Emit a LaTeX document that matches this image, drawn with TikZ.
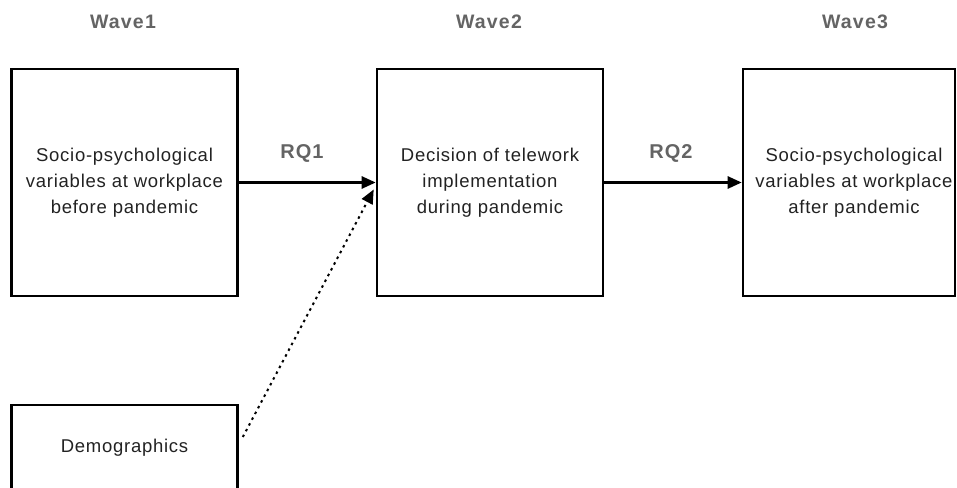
\documentclass[tikz,border=0pt]{standalone}
\usepackage{fontspec}
\setmainfont{Liberation Sans}
\usetikzlibrary{arrows.meta,calc}
\definecolor{wavegray}{HTML}{646464}
\definecolor{bodyink}{HTML}{222222}
\tikzset{
  boxtext/.style={align=center, inner sep=0pt, text=bodyink,
    font=\fontsize{18.5}{26}\selectfont\addfontfeature{LetterSpace=4}},
  stagebox/.style={boxtext, draw=black, line width=2.6pt, minimum width=226pt, minimum height=227pt},
  demobox/.style={boxtext, draw=black, line width=2.6pt, minimum width=226pt, minimum height=86pt},
  wavelabel/.style={font=\fontsize{19.5}{22}\selectfont\bfseries\addfontfeature{LetterSpace=6}, text=wavegray},
  rqlabel/.style={font=\fontsize{20}{22}\selectfont\bfseries\addfontfeature{LetterSpace=5}, text=wavegray},
  flow/.style={line width=2.6pt, -{Triangle[length=14pt,width=12pt]}},
  side/.style={line width=2pt, dash pattern=on 2.5pt off 4pt, -{Triangle[length=14pt,width=12pt]}}
}
\begin{document}
\begin{tikzpicture}[x=1pt,y=-1pt]
\useasboundingbox (0,0) rectangle (957,487);
\clip (0,0) rectangle (957,487);

\node[wavelabel] (w1) at (123,22) {Wave1};
\node[wavelabel] (w2) at (489,22) {Wave2};
\node[wavelabel] (w3) at (855,22) {Wave3};

\node[stagebox] (before) at (124.5,182.5) {Socio-psychological\\variables at workplace\\before pandemic};
\node[stagebox] (telework) at (490,182.5) {Decision of telework\\implementation\\during pandemic};
\node[stagebox, minimum width=212pt] (after) at (849,182.5) {\hspace*{10pt}Socio-psychological\\\hspace*{10pt}variables at workplace\\\hspace*{10pt}after pandemic};

\node[demobox] (demo) at (124.5,448) {Demographics};

\node[rqlabel] (rq1) at (302,153) {RQ1};
\node[rqlabel] (rq2) at (671,153) {RQ2};

\draw[flow] (before.east) -- (telework.west);
\draw[flow] (telework.east) -- (after.west);

% dotted link from the demographics box up to the telework decision
\coordinate (demoout) at ($(demo.east)+(4,-11)$);
\coordinate (demoin) at ($(telework.west)+(-2,7)$);
\draw[side] (demoout) -- (demoin);
\end{tikzpicture}
\end{document}
